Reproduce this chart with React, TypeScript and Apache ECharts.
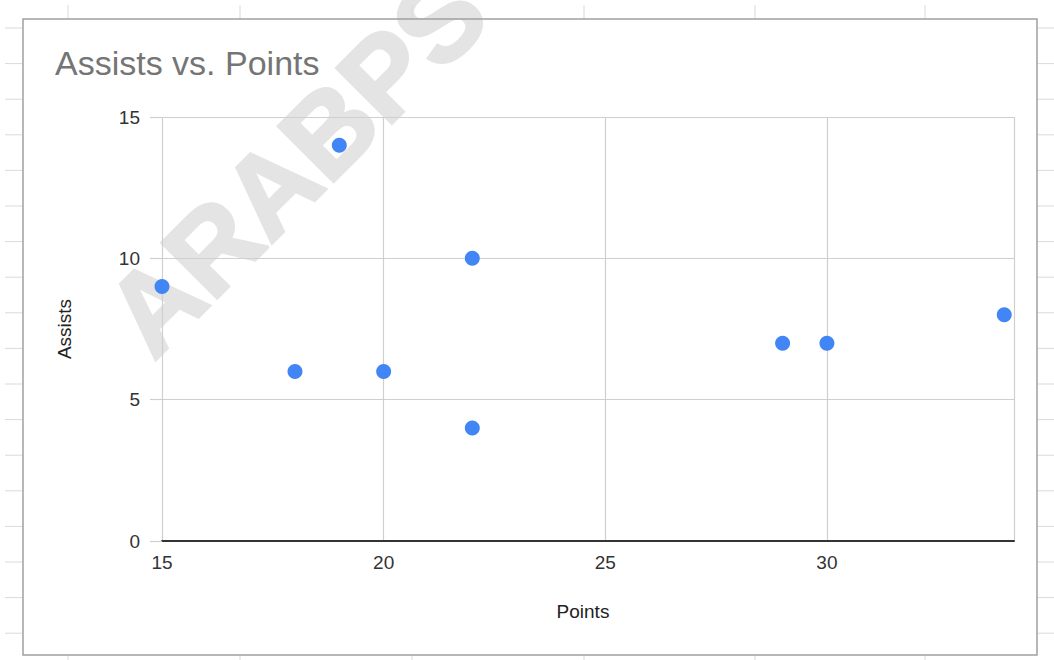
import React, { useEffect, useRef } from "react";
import * as echarts from "echarts";

const points: number[] = [15, 18, 19, 20, 22, 22, 29, 30, 34];
const assists: number[] = [9, 6, 14, 6, 10, 4, 7, 7, 8];
const xTicks: number[] = [15, 20, 25, 30];
const yTicks: number[] = [0, 5, 10, 15];

const FONT = "'Liberation Sans', Arial, sans-serif";

export default function App() {
  const ref = useRef<HTMLDivElement>(null);

  useEffect(() => {
    if (!ref.current) return;
    const chart = echarts.init(ref.current, undefined, { renderer: "svg" });

    const sheetLine = "#dadada";
    const bg: any[] = [];
    // watermark first (drawn beneath frame, gridlines and points)
    bg.push({
      type: "text",
      x: 166,
      y: 374,
      rotation: Math.PI / 4,
      style: {
        text: "ARABPS",
        x: 0,
        y: 0,
        textAlign: "left",
        textVerticalAlign: "bottom",
        font: `bold 114px ${FONT}`,
        fill: "#e4e4e4",
        stroke: "#e4e4e4",
        lineWidth: 3,
      },
      z: -10,
    });
    // spreadsheet cell lines peeking around the chart frame
    const colXs = [68, 240, 412, 584, 755, 925];
    colXs.forEach((x) => {
      bg.push({ type: "line", shape: { x1: x, y1: 5, x2: x, y2: 19 }, style: { stroke: sheetLine, lineWidth: 1 }, z: 50 });
      bg.push({ type: "line", shape: { x1: x, y1: 655, x2: x, y2: 660 }, style: { stroke: sheetLine, lineWidth: 1 }, z: 50 });
    });
    for (let i = 0; i < 18; i++) {
      const y = 28 + i * 35.6;
      bg.push({ type: "line", shape: { x1: 5, y1: y, x2: 23, y2: y }, style: { stroke: sheetLine, lineWidth: 1 }, z: 50 });
      bg.push({ type: "line", shape: { x1: 1037, y1: y, x2: 1054, y2: y }, style: { stroke: sheetLine, lineWidth: 1 }, z: 50 });
    }
    // chart frame, on top of the watermark
    bg.push({
      type: "rect",
      shape: { x: 23, y: 19, width: 1014, height: 636 },
      style: { fill: "none", stroke: "#a0a0a0", lineWidth: 1.5 },
      z: 100,
    });

    chart.setOption({
      animation: false,
      backgroundColor: "#ffffff",
      title: {
        text: "Assists vs. Points",
        left: 55,
        top: 46,
        padding: 0,
        textStyle: { fontFamily: FONT, fontSize: 34, fontWeight: "normal", color: "#757575" },
      },
      grid: { left: 162, right: 40, top: 117, bottom: 119, containLabel: false },
      xAxis: {
        type: "value",
        min: 15,
        max: 34.22,
        interval: 5,
        name: "Points",
        nameLocation: "middle",
        nameGap: 61,
        nameTextStyle: { fontFamily: FONT, fontSize: 19, color: "#222222", padding: [0, 10, 0, 0] },
        axisLine: { show: true, onZero: false, lineStyle: { color: "#333333", width: 2 } },
        axisTick: { show: false },
        axisLabel: {
          margin: 12,
          fontFamily: FONT,
          fontSize: 19,
          color: "#333333",
          showMaxLabel: false,
          formatter: (v: number) => (xTicks.includes(v) ? String(v) : ""),
        },
        splitLine: { show: true, lineStyle: { color: "#cfcfcf", width: 1.2 } },
      },
      yAxis: {
        type: "value",
        min: 0,
        max: 15,
        interval: 5,
        name: "Assists",
        nameLocation: "middle",
        nameGap: 88,
        nameTextStyle: { fontFamily: FONT, fontSize: 19, color: "#222222" },
        axisLine: { show: false },
        axisTick: { show: true, length: 12, lineStyle: { color: "#cfcfcf", width: 1.2 } },
        axisLabel: {
          margin: 22,
          fontFamily: FONT,
          fontSize: 19,
          color: "#333333",
          formatter: (v: number) => (yTicks.includes(v) ? String(v) : ""),
        },
        splitLine: { show: true, lineStyle: { color: "#cfcfcf", width: 1.2 } },
      },
      graphic: bg,
      series: [
        {
          type: "scatter",
          data: points.map((p, i) => [p, assists[i]]),
          symbol: "circle",
          symbolSize: 15,
          itemStyle: { color: "#4285F4", opacity: 1 },
          z: 5,
        },
      ],
    });

    return () => chart.dispose();
  }, []);

  return (
    <div
      ref={ref}
      style={{ position: "fixed", left: 0, top: 0, width: 1054, height: 660, background: "#fff" }}
    />
  );
}
